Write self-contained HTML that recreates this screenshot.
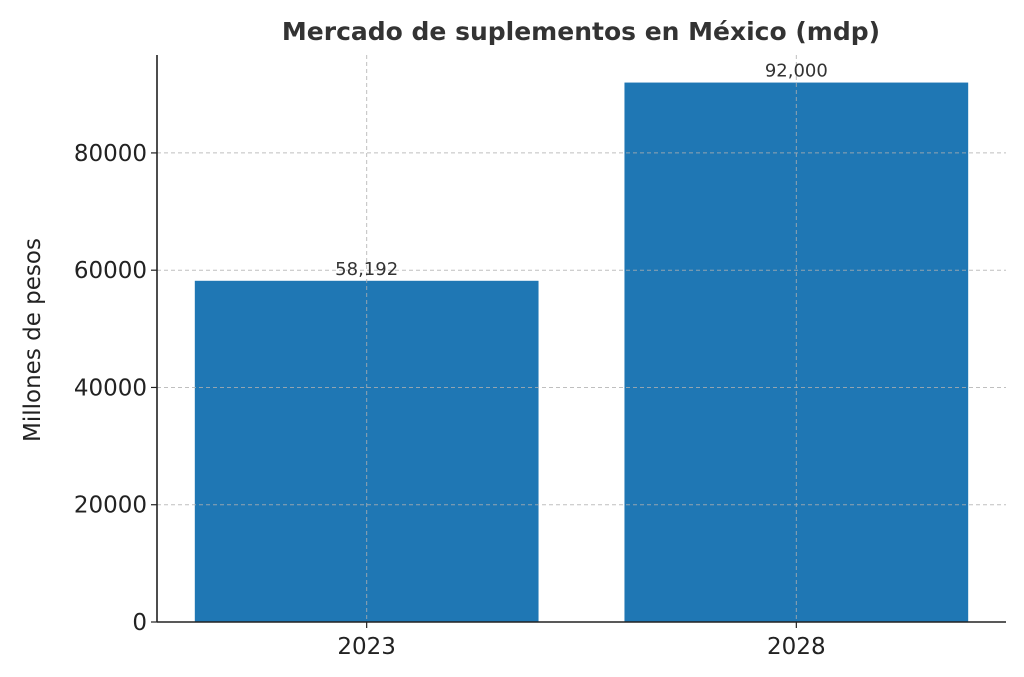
<!DOCTYPE html>
<html><head><meta charset="utf-8"><style>
body{margin:0;background:#fff;}
svg{display:block;font-family:"DejaVu Sans","Liberation Sans",sans-serif;}
</style></head><body>
<svg id="chart" width="1024" height="677" viewBox="0 0 1024 677" xmlns="http://www.w3.org/2000/svg"></svg>
<script>
const categories = ["2023", "2028"];
const values = [58192, 92000];
const valueLabels = ["58,192", "92,000"];
const yTicks = [0, 20000, 40000, 60000, 80000];

const svg = document.getElementById('chart');
const NS = 'http://www.w3.org/2000/svg';
const L = 157, R = 1006, T = 55, B = 622;
const yMax = 96700, xMin = -0.488, xMax = 1.488;
const y = v => B - (v / yMax) * (B - T);
const x = i => L + (i - xMin) / (xMax - xMin) * (R - L);
const unit = (R - L) / (xMax - xMin);
function mk(tag, attrs, text) {
  const e = document.createElementNS(NS, tag);
  for (const k in attrs) e.setAttribute(k, attrs[k]);
  if (text !== undefined) e.textContent = text;
  svg.appendChild(e);
  return e;
}
// bars
categories.forEach((c, i) => {
  const w = 0.8 * unit;
  const b = mk('rect', {x: x(i) - w / 2, y: y(values[i]), width: w, height: B - y(values[i]), fill: '#1f77b4'});
  
  
});
// grid
yTicks.forEach(t => {
  const g = mk('line', {x1: L, x2: R, y1: y(t), y2: y(t), stroke: '#b0b0b0', 'stroke-width': 1, 'stroke-dasharray': '4,3', opacity: 0.8});
  
  
});
categories.forEach((c, i) => {
  const g = mk('line', {x1: x(i), x2: x(i), y1: T, y2: B, stroke: '#b0b0b0', 'stroke-width': 1, 'stroke-dasharray': '4,3', opacity: 0.8});
  
  
});
// spines
let s = mk('line', {x1: L, x2: L, y1: T, y2: B, stroke: '#222', 'stroke-width': 1.6});


s = mk('line', {x1: L, x2: R, y1: B, y2: B, stroke: '#222', 'stroke-width': 1.6});


// y ticks
yTicks.forEach(t => {
  const tk = mk('line', {x1: L - 6, x2: L, y1: y(t), y2: y(t), stroke: '#222', 'stroke-width': 1.2});
  
  
  const tl = mk('text', {x: L - 10, y: y(t) + 8, 'text-anchor': 'end', 'font-size': 23, fill: '#222'}, String(t));
  
  
});
// x ticks & value labels
categories.forEach((c, i) => {
  const tk = mk('line', {x1: x(i), x2: x(i), y1: B, y2: B + 6, stroke: '#222', 'stroke-width': 1.2});
  
  
  const tl = mk('text', {x: x(i), y: B + 32, 'text-anchor': 'middle', 'font-size': 23, fill: '#222'}, c);
  
  
  const vl = mk('text', {x: x(i), y: y(values[i]) - 6, 'text-anchor': 'middle', 'font-size': 18, fill: '#333'}, valueLabels[i]);
  
  
});
// titles
let t = mk('text', {x: 581, y: 40, 'text-anchor': 'middle', 'font-size': 25, 'font-weight': 'bold', fill: '#333'}, 'Mercado de suplementos en México (mdp)');


t = mk('text', {x: 0, y: 0, transform: 'translate(40,340) rotate(-90)', 'text-anchor': 'middle', 'font-size': 23, fill: '#222'}, 'Millones de pesos');


</script>
</body></html>
